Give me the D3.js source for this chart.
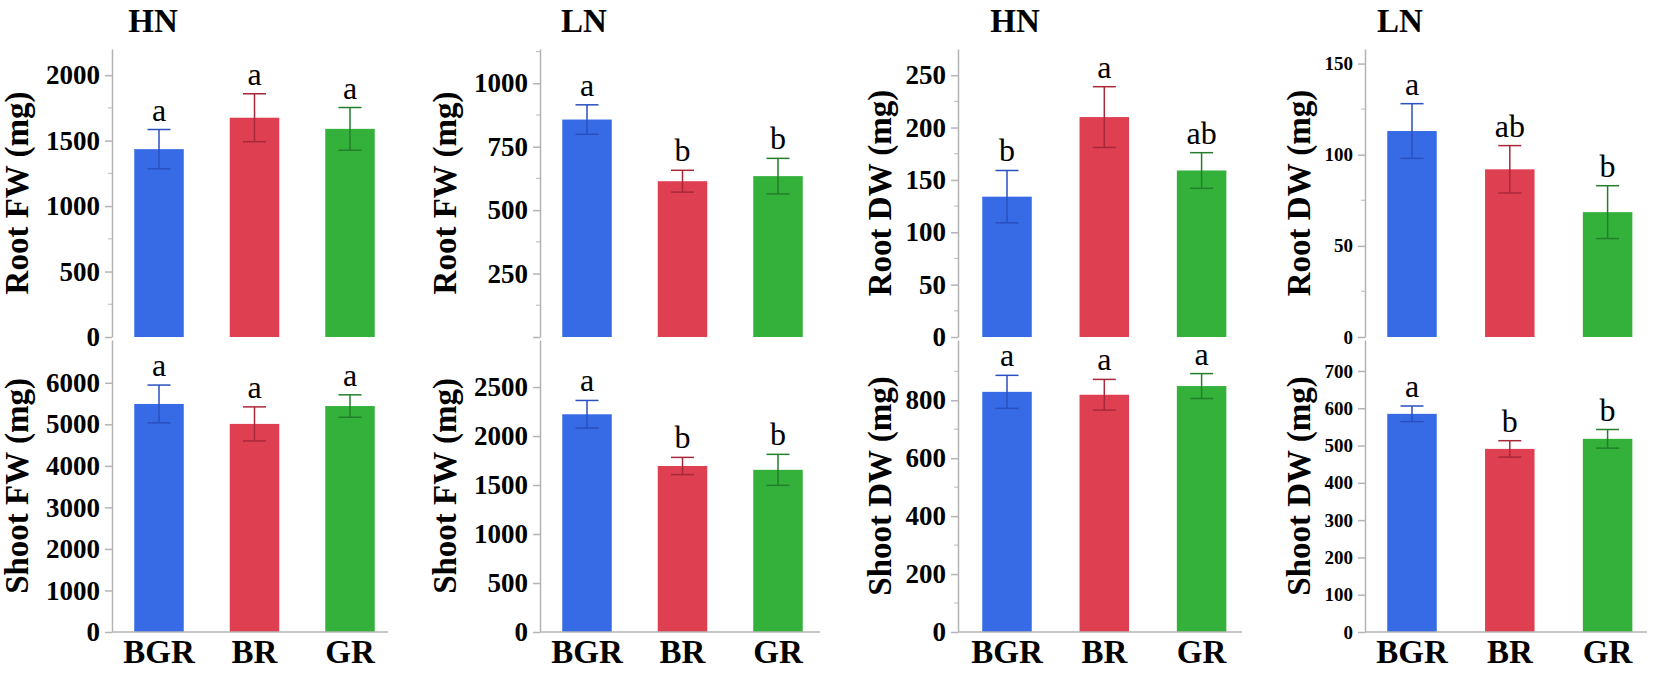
<!DOCTYPE html>
<html>
<head>
<meta charset="utf-8">
<title>Root and shoot biomass</title>
<script src="https://cdn.jsdelivr.net/npm/d3@7/dist/d3.min.js"></script>
<style>
  body { margin: 0; background: #fff; }
  svg text { font-family: "Liberation Serif", "Times New Roman", serif; fill: #000; }
  .tick line, .domain { stroke: #b4b4b4; stroke-width: 1.5; }
</style>
</head>
<body>
<div id="chart"></div>
<script>
// Categories and groups
var categories = ["BGR", "BR", "GR"];
var nitrogen = ["HN", "LN", "HN", "LN"];

// Root fresh weight (mg)
var rootFwHN = [1435, 1675, 1590], rootFwHNErr = [150, 183, 163], rootFwHNSig = ["a", "a", "a"];
var rootFwLN = [857, 614, 634], rootFwLNErr = [58, 43, 70], rootFwLNSig = ["a", "b", "b"];
// Shoot fresh weight (mg)
var shootFwHN = [5490, 5010, 5440], shootFwHNErr = [455, 410, 270], shootFwHNSig = ["a", "a", "a"];
var shootFwLN = [2222, 1694, 1655], shootFwLNErr = [141, 88, 158], shootFwLNSig = ["a", "b", "b"];
// Root dry weight (mg)
var rootDwHN = [134, 210, 159], rootDwHNErr = [25, 29, 17], rootDwHNSig = ["b", "a", "ab"];
var rootDwLN = [113, 92, 68.5], rootDwLNErr = [15, 13, 14.5], rootDwLNSig = ["a", "ab", "b"];
// Shoot dry weight (mg)
var shootDwHN = [829, 819, 849], shootDwHNErr = [57, 53, 43], shootDwHNSig = ["a", "a", "a"];
var shootDwLN = [585, 491, 518], shootDwLNErr = [21, 22, 25], shootDwLNSig = ["a", "b", "b"];

// Tick values and labels
var rootFwHNTicks = [0, 500, 1000, 1500, 2000];
var rootFwLNTicks = [0, 250, 500, 750, 1000], rootFwLNLabels = ["", "250", "500", "750", "1000"];
var shootFwHNTicks = [0, 1000, 2000, 3000, 4000, 5000, 6000];
var shootFwLNTicks = [0, 500, 1000, 1500, 2000, 2500];
var rootDwHNTicks = [0, 50, 100, 150, 200, 250];
var rootDwLNTicks = [0, 50, 100, 150];
var shootDwHNTicks = [0, 200, 400, 600, 800];
var shootDwLNTicks = [0, 100, 200, 300, 400, 500, 600, 700];

var barColors = ["#376be6", "#de4052", "#34b13b"];
var errColors = ["#2a4fc0", "#a8283a", "#237f2b"];

// Column layout
var axisX = [112, 540, 958, 1365],
    firstBar = [47, 47, 49, 47],
    step = [95.5, 95.5, 97.3, 97.8],
    barW = 49.5,
    xAxisEnd = [388, 820, 1242, 1647],
    titleX = [153, 584, 1015, 1400],
    labelOff = [84, 84, 67, 55],
    tickFont = [27, 27, 27, 19];
var rows = [{ y0: 337, y1: 49 }, { y0: 632, y1: 340 }];

var panels = [
  { col: 0, row: 0, label: "Root FW (mg)", mean: rootFwHN, err: rootFwHNErr, sig: rootFwHNSig, max: 2200, ticks: rootFwHNTicks, minor: 250 },
  { col: 1, row: 0, label: "Root FW (mg)", mean: rootFwLN, err: rootFwLNErr, sig: rootFwLNSig, max: 1135, ticks: rootFwLNTicks, labels: rootFwLNLabels, minor: 125 },
  { col: 2, row: 0, label: "Root DW (mg)", mean: rootDwHN, err: rootDwHNErr, sig: rootDwHNSig, max: 275, ticks: rootDwHNTicks, minor: 25 },
  { col: 3, row: 0, label: "Root DW (mg)", mean: rootDwLN, err: rootDwLNErr, sig: rootDwLNSig, max: 158, ticks: rootDwLNTicks, minor: 25 },
  { col: 0, row: 1, label: "Shoot FW (mg)", mean: shootFwHN, err: shootFwHNErr, sig: shootFwHNSig, max: 7030, ticks: shootFwHNTicks },
  { col: 1, row: 1, label: "Shoot FW (mg)", mean: shootFwLN, err: shootFwLNErr, sig: shootFwLNSig, max: 2980, ticks: shootFwLNTicks },
  { col: 2, row: 1, label: "Shoot DW (mg)", mean: shootDwHN, err: shootDwHNErr, sig: shootDwHNSig, max: 1008, ticks: shootDwHNTicks, minor: 100 },
  { col: 3, row: 1, label: "Shoot DW (mg)", mean: shootDwLN, err: shootDwLNErr, sig: shootDwLNSig, max: 783, ticks: shootDwLNTicks }
];

var svg = d3.select("#chart").append("svg").attr("width", 1654).attr("height", 675);

// Column titles
nitrogen.forEach(function (n, c) {
  svg.append("text")
    .attr("x", titleX[c]).attr("y", 32)
    .attr("text-anchor", "middle")
    .attr("font-weight", "bold").attr("font-size", 33)
    .text(n);
});

panels.forEach(function (p) {
  var ax = axisX[p.col], r = rows[p.row];
  var y = d3.scaleLinear().domain([0, p.max]).range([r.y0, r.y1]);
  var x = d3.scaleBand().domain(categories)
    .range([ax + firstBar[p.col] - step[p.col] / 2, ax + firstBar[p.col] + step[p.col] * 2.5])
    .paddingInner(1 - barW / step[p.col]).paddingOuter((1 - barW / step[p.col]) / 2);
  var g = svg.append("g");

  // Minor ticks
  if (p.minor) {
    var minors = d3.range(p.minor, p.max, p.minor * 2);
    g.selectAll(".minor").data(minors).enter().append("line")
      .attr("x1", ax - 4).attr("x2", ax)
      .attr("y1", function (d) { return y(d); }).attr("y2", function (d) { return y(d); })
      .attr("stroke", "#c4c4c4").attr("stroke-width", 1.2);
  }

  // Y axis
  var yAxis = d3.axisLeft(y).tickValues(p.ticks).tickSize(7).tickPadding(5).tickSizeOuter(0)
    .tickFormat(function (d, i) { return p.labels ? p.labels[i] : d; });
  var ag = g.append("g").attr("transform", "translate(" + ax + ",0)").call(yAxis);
  ag.selectAll("text")
    .attr("font-family", "'Liberation Serif', 'Times New Roman', serif")
    .attr("font-weight", "bold").attr("font-size", tickFont[p.col]).attr("fill", "#000");

  // Bars
  g.selectAll(".bar").data(p.mean).enter().append("rect")
    .attr("x", function (d, i) { return x(categories[i]); })
    .attr("width", x.bandwidth())
    .attr("y", function (d) { return y(d); })
    .attr("height", function (d) { return y(0) - y(d); })
    .attr("fill", function (d, i) { return barColors[i]; });

  // Error bars
  p.mean.forEach(function (m, i) {
    var cx = x(categories[i]) + x.bandwidth() / 2, e = p.err[i];
    var eg = g.append("g").attr("stroke", errColors[i]).attr("stroke-width", 1.5);
    eg.append("line").attr("x1", cx).attr("x2", cx).attr("y1", y(m + e)).attr("y2", y(m - e));
    eg.append("line").attr("x1", cx - 11.5).attr("x2", cx + 11.5).attr("y1", y(m + e)).attr("y2", y(m + e));
    eg.append("line").attr("x1", cx - 11.5).attr("x2", cx + 11.5).attr("y1", y(m - e)).attr("y2", y(m - e));
    g.append("text")
      .attr("x", cx).attr("y", y(m + e) - 9)
      .attr("text-anchor", "middle").attr("font-size", 32)
      .text(p.sig[i]);
  });

  // Y label
  g.append("text")
    .attr("transform", "translate(" + (ax - labelOff[p.col]) + "," + ((r.y0 + r.y1) / 2) + ") rotate(-90)")
    .attr("text-anchor", "middle")
    .attr("font-weight", "bold").attr("font-size", 33)
    .text(p.label);

  // X axis and categories for the lower row
  if (p.row === 1) {
    g.append("line")
      .attr("x1", ax).attr("x2", xAxisEnd[p.col])
      .attr("y1", r.y0).attr("y2", r.y0)
      .attr("stroke", "#b4b4b4").attr("stroke-width", 1.5);
    g.selectAll(".cat").data(categories).enter().append("text")
      .attr("x", function (d) { return x(d) + x.bandwidth() / 2; })
      .attr("y", 663)
      .attr("text-anchor", "middle")
      .attr("font-weight", "bold").attr("font-size", 33)
      .text(function (d) { return d; });
  }
});
</script>
</body>
</html>
